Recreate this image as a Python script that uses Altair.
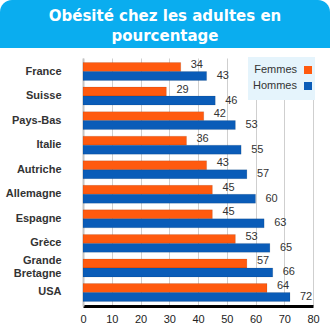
import altair as alt
import pandas as pd

pays = ["France", "Suisse", "Pays-Bas", "Italie", "Autriche", "Allemagne",
        "Espagne", "Grèce", "Grande Bretagne", "USA"]
femmes = [34, 29, 42, 36, 43, 45, 45, 53, 57, 64]
hommes = [43, 46, 53, 55, 57, 60, 63, 65, 66, 72]
series = ["Femmes", "Hommes"]
colors = ["#FF5A0F", "#0A5CB8"]
title_lines = ["Obésité chez les adultes en", "pourcentage"]
ticks = [0, 10, 20, 30, 40, 50, 60, 70, 80]

rows = []
for p, f, h in zip(pays, femmes, hommes):
    rows.append({"pays": p, "sexe": "Femmes", "val": f})
    rows.append({"pays": p, "sexe": "Hommes", "val": h})
df = pd.DataFrame(rows)

yscale = alt.Scale(paddingInner=0.27, paddingOuter=0.185)
xscale = alt.Scale(domain=[0, 80])
yaxis = alt.Axis(labelFont="Liberation Sans", labelFontWeight="bold",
                 labelFontSize=11, labelColor="#333333", ticks=False,
                 labelPadding=22, domainColor="#c4c4c4", domainWidth=2,
                 labelLineHeight=13,
                 labelOffset={"condition": {"test": "datum.label == 'Grande Bretagne'", "value": -7}, "value": 0},
                 labelExpr="datum.label == 'Grande Bretagne' ? ['Grande', 'Bretagne'] : datum.label")
xaxis = alt.Axis(values=ticks, grid=True, gridColor="#cfcfcf",
                 ticks=False, domainColor="#000000", domainWidth=3,
                 labelOverlap=False, labelFlush=False,
                 labelFont="Liberation Sans", labelFontSize=11,
                 labelColor="#222222", labelPadding=7)
yenc = alt.Y("pays:N", sort=pays, title=None, scale=yscale, axis=yaxis)
xenc = alt.X("val:Q", title=None, scale=xscale, axis=xaxis)
yoff = alt.YOffset("sexe:N", sort=series)
col = alt.Color("sexe:N", scale=alt.Scale(domain=series, range=colors), legend=None)

base = alt.Chart(df)
bars = base.mark_bar(stroke="#00000033", strokeWidth=0.5).encode(y=yenc, x=xenc, yOffset=yoff, color=col)
lab_f = base.transform_filter("datum.sexe == 'Femmes'").mark_text(
    align="left", dx=10, dy=-2, font="Liberation Sans", fontSize=11, color="#333333"
).encode(y=yenc, x=xenc, yOffset=yoff, text="val:Q")
lab_h = base.transform_filter("datum.sexe == 'Hommes'").mark_text(
    align="left", dx=10, dy=0, font="Liberation Sans", fontSize=11, color="#333333"
).encode(y=yenc, x=xenc, yOffset=yoff, text="val:Q")

one = pd.DataFrame({"a": [0]})
banner = alt.Chart(one).mark_rect(color="#0AADEF", cornerRadiusTopLeft=12,
                                  cornerRadiusTopRight=12).encode(
    x=alt.value(-83), x2=alt.value(247), y=alt.value(-58), y2=alt.value(-10))
t1 = alt.Chart(one).mark_text(text=title_lines[0], font="DejaVu Sans", fontWeight="bold",
                              fontSize=15, color="white").encode(x=alt.value(82), y=alt.value(-42))
t2 = alt.Chart(one).mark_text(text=title_lines[1], font="DejaVu Sans", fontWeight="bold",
                              fontSize=15, color="white").encode(x=alt.value(82), y=alt.value(-22))

leg_bg = alt.Chart(one).mark_rect(color="#E5F4FC").encode(
    x=alt.value(165), x2=alt.value(232), y=alt.value(-1), y2=alt.value(42))
leg_layers = [leg_bg]
for i, (s, c) in enumerate(zip(series, colors)):
    yy = 12 + 16 * i
    leg_layers.append(alt.Chart(one).mark_text(text=s, align="right", font="Liberation Sans",
                                               fontSize=11, color="#333333").encode(
        x=alt.value(214), y=alt.value(yy)))
    leg_layers.append(alt.Chart(one).mark_rect(color=c).encode(
        x=alt.value(221), x2=alt.value(229), y=alt.value(yy - 4), y2=alt.value(yy + 4)))

chart = alt.layer(bars, lab_f, lab_h, banner, t1, t2, *leg_layers).properties(
    width=230, height=248,
    padding={"left": 83, "top": 58, "right": 17, "bottom": 18},
    autosize=alt.AutoSizeParams(type="none"),
    background="white",
).configure_view(stroke=None)

chart.save("out.html", embed_options={"renderer": "svg", "actions": False})
